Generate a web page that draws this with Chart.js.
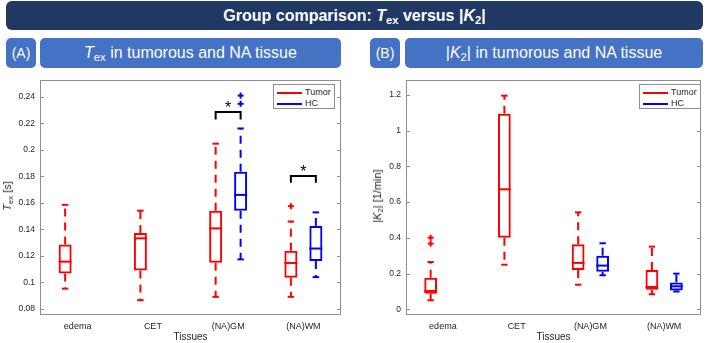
<!DOCTYPE html>
<html>
<head>
<meta charset="utf-8">
<title>Group comparison: Tex versus |K2|</title>
<script src="https://cdn.jsdelivr.net/npm/chart.js@4.4.1/dist/chart.umd.min.js"></script>
<style>
    body { margin: 0; background: #fff; font-family: "Liberation Sans", Arial, sans-serif; }
    #page { position: relative; width: 709px; height: 343px; overflow: hidden; }
    sub { font-size: 70%; vertical-align: -0.3em; line-height: 0; }

    .banner { position: absolute; left: 6px; top: 1px; width: 697px; height: 29px; line-height: 29px;
              background: #203864; border-radius: 6px; color: #fff; font-weight: bold; font-size: 16px; text-align: center; }
    .tag, .ptitle { position: absolute; top: 38px; height: 30px; line-height: 30px; background: #4472c4;
                    border-radius: 5px; color: #fff; text-align: center; }
    .tag { font-size: 14px; }
    .ptitle { font-size: 16px; }

    .ytitle { position: absolute; font-size: 11px; color: #262626; white-space: nowrap;
              transform: translate(-50%, -50%) rotate(-90deg); }

    .legend { position: absolute; top: 84px; width: 60px; height: 23px; border: 1px solid #8f8f8f;
              background: #fff; font-size: 9px; color: #262626; }
    .legend .row { position: absolute; left: 3px; height: 10px; line-height: 10px; white-space: nowrap; }
    .legend .row i { display: inline-block; width: 25px; height: 2px; vertical-align: middle; margin-right: 3px; }

    canvas { position: absolute; top: 70px; }
</style>
</head>
<body>
<div id="page">
    <div class="banner">Group comparison: <i>T</i><sub>ex</sub> versus |<i>K</i><sub>2</sub>|</div>

    <div class="tag" style="left:6px; width:30px;">(A)</div>
    <div class="ptitle" style="left:40px; width:301px;"><i>T</i><sub>ex</sub> in tumorous and NA tissue</div>
    <div class="tag" style="left:370px; width:30px;">(B)</div>
    <div class="ptitle" style="left:405px; width:298px;">|<i>K</i><sub>2</sub>| in tumorous and NA tissue</div>

    <canvas id="chartA" width="345" height="273" style="left:0px;"></canvas>
    <canvas id="chartB" width="343" height="273" style="left:366px;"></canvas>

    <div class="ytitle" style="left:7px; top:196px;"><i>T</i><sub>ex</sub> [s]</div>
    <div class="ytitle" style="left:377px; top:196px;">|<i>K</i><sub>2</sub>| [1/min]</div>

    <div class="legend" style="left:273px;">
        <div class="row" style="top:2px;"><i style="background:#ff0000"></i>Tumor</div>
        <div class="row" style="top:13px;"><i style="background:#0000ff"></i>HC</div>
    </div>
    <div class="legend" style="left:639px;">
        <div class="row" style="top:2px;"><i style="background:#ff0000"></i>Tumor</div>
        <div class="row" style="top:13px;"><i style="background:#0000ff"></i>HC</div>
    </div>
</div>

<script>
/////////////////////////////////////Data/////////////////////////////////////

const categories = ['edema', 'CET', '(NA)GM', '(NA)WM'];
const groupNames = ['Tumor', 'HC'];
const groupColors = ['#ff0000', '#0000ff'];

// (A) Tex [s] - tumour group
const texTumorLo  = [0.0952, 0.0865, 0.0890, 0.0890];
const texTumorQ1  = [0.1066, 0.1089, 0.1148, 0.1034];
const texTumorMed = [0.1156, 0.1332, 0.1407, 0.1146];
const texTumorQ3  = [0.1285, 0.1372, 0.1541, 0.1238];
const texTumorHi  = [0.1585, 0.1541, 0.2047, 0.1459];
const texTumorOut = [[], [], [], [0.1575]];

// (A) Tex [s] - healthy controls (no edema / CET)
const texHcLo  = [null, null, 0.1173, 0.1039];
const texHcQ1  = [null, null, 0.1541, 0.1161];
const texHcMed = [null, null, 0.1660, 0.1255];
const texHcQ3  = [null, null, 0.1834, 0.1426];
const texHcHi  = [null, null, 0.2162, 0.1528];
const texHcOut = [[], [], [0.2348, 0.2410], []];

// (B) |K2| [1/min] - tumour group
const k2TumorLo  = [0.051, 0.250, 0.138, 0.085];
const k2TumorQ1  = [0.088, 0.401, 0.221, 0.110];
const k2TumorMed = [0.103, 0.672, 0.260, 0.125];
const k2TumorQ3  = [0.177, 1.095, 0.365, 0.221];
const k2TumorHi  = [0.265, 1.196, 0.543, 0.351];
const k2TumorOut = [[0.368, 0.401], [], [], []];

// (B) |K2| [1/min] - healthy controls
const k2HcLo  = [null, null, 0.191, 0.100];
const k2HcQ1  = [null, null, 0.210, 0.105];
const k2HcMed = [null, null, 0.245, 0.129];
const k2HcQ3  = [null, null, 0.300, 0.151];
const k2HcHi  = [null, null, 0.370, 0.200];
const k2HcOut = [[], [], [], []];

// Axis ticks
const texTicks = [0.08, 0.1, 0.12, 0.14, 0.16, 0.18, 0.2, 0.22, 0.24];
const k2Ticks = [0, 0.2, 0.4, 0.6, 0.8, 1, 1.2];

// Significance brackets (A only): category, bracket level, end of the legs
const sigCats = ['(NA)GM', '(NA)WM'];
const sigTop  = [0.2286, 0.1802];
const sigEnd  = [0.2230, 0.1752];


/////////////////////////////////////Box plot drawing/////////////////////////////////////

// Draws the axes box, inward ticks, medians, whiskers, outliers and brackets
const boxPlugin = {
    id: 'boxdraw',
    afterDatasetsDraw(chart, args, opts) {
        const ctx = chart.ctx;
        const y = chart.scales.y;
        const area = chart.chartArea;

        ctx.save();

        // MATLAB style axes box with inward ticks
        ctx.strokeStyle = '#8f8f8f';
        ctx.lineWidth = 1;
        ctx.strokeRect(Math.round(area.left) + 0.5, Math.round(area.top) + 0.5,
            Math.round(area.right - area.left) - 1, Math.round(area.bottom - area.top) - 1);
        ctx.beginPath();
        y.ticks.forEach(t => {
            const py = Math.round(y.getPixelForValue(t.value)) + 0.5;
            ctx.moveTo(area.left, py); ctx.lineTo(area.left + 4, py);
            ctx.moveTo(area.right - 4, py); ctx.lineTo(area.right, py);
        });
        ctx.stroke();

        // whiskers, medians, caps, outliers
        ctx.lineWidth = 2;
        opts.groups.forEach((g, di) => {
            const meta = chart.getDatasetMeta(di);
            ctx.strokeStyle = groupColors[di];
            g.med.forEach((m, i) => {
                if (m == null) return;
                const bar = meta.data[i];
                const x = bar.x;
                const half = bar.width / 2;
                const line = (x1, y1, x2, y2) => {
                    ctx.beginPath(); ctx.moveTo(x1, y1); ctx.lineTo(x2, y2); ctx.stroke();
                };

                line(x - half, y.getPixelForValue(m), x + half, y.getPixelForValue(m));

                ctx.setLineDash([8, 6]);
                line(x, y.getPixelForValue(g.q3[i]), x, y.getPixelForValue(g.hi[i]));
                line(x, y.getPixelForValue(g.q1[i]), x, y.getPixelForValue(g.lo[i]));
                ctx.setLineDash([]);

                line(x - half / 2, y.getPixelForValue(g.hi[i]), x + half / 2, y.getPixelForValue(g.hi[i]));
                line(x - half / 2, y.getPixelForValue(g.lo[i]), x + half / 2, y.getPixelForValue(g.lo[i]));

                g.out[i].forEach(o => {
                    const py = y.getPixelForValue(o);
                    line(x - 3, py, x + 3, py);
                    line(x, py - 3, x, py + 3);
                });
            });
        });

        // significance brackets
        if (opts.sig) {
            ctx.strokeStyle = '#000';
            ctx.fillStyle = '#000';
            ctx.lineWidth = 2;
            ctx.font = '16px "Liberation Sans", Arial, sans-serif';
            ctx.textAlign = 'center';
            ctx.textBaseline = 'alphabetic';
            opts.sig.cats.forEach((c, k) => {
                const i = categories.indexOf(c);
                const x1 = chart.getDatasetMeta(0).data[i].x;
                const x2 = chart.getDatasetMeta(1).data[i].x;
                const yt = y.getPixelForValue(opts.sig.top[k]);
                const ye = y.getPixelForValue(opts.sig.end[k]);
                ctx.beginPath();
                ctx.moveTo(x1, ye); ctx.lineTo(x1, yt); ctx.lineTo(x2, yt); ctx.lineTo(x2, ye);
                ctx.stroke();
                ctx.fillText('*', (x1 + x2) / 2, yt + 1);
            });
        }

        ctx.restore();
    }
};

// Build one panel
function makePanel(canvasId, groups, yMin, yMax, ticks, sig, rightPad) {
    const datasets = groups.map((g, di) => ({
        label: groupNames[di],
        data: g.q1.map((v, i) => v == null ? null : [g.q1[i], g.q3[i]]),
        borderColor: groupColors[di],
        backgroundColor: 'rgba(0,0,0,0)',
        borderWidth: 2,
        borderSkipped: false,
        categoryPercentage: 0.664,
        barPercentage: 0.52
    }));

    return new Chart(document.getElementById(canvasId), {
        type: 'bar',
        data: { labels: categories, datasets: datasets },
        options: {
            responsive: false,
            animation: false,
            layout: { padding: { top: 7, right: rightPad, bottom: 0, left: 0 } },
            plugins: {
                legend: { display: false },
                tooltip: { enabled: false },
                boxdraw: { groups: groups, sig: sig }
            },
            scales: {
                x: {
                    grid: { display: false, drawTicks: false },
                    border: { display: false },
                    ticks: { color: '#262626', font: { size: 9, family: '"Liberation Sans", Arial, sans-serif' }, padding: 6 },
                    title: { display: true, text: 'Tissues', color: '#262626',
                             font: { size: 10, family: '"Liberation Sans", Arial, sans-serif' }, padding: { top: 0, bottom: 0 } },
                    afterFit: scale => { scale.height = 28; }
                },
                y: {
                    min: yMin,
                    max: yMax,
                    grid: { display: false, drawTicks: false },
                    border: { display: false },
                    afterBuildTicks: axis => { axis.ticks = ticks.map(v => ({ value: v })); },
                    ticks: { color: '#262626', font: { size: 8.5, family: '"Liberation Sans", Arial, sans-serif' }, padding: 5,
                             callback: v => String(v) },
                    afterFit: scale => { scale.width = 40; }
                }
            }
        },
        plugins: [boxPlugin]
    });
}

const texGroups = [
    { lo: texTumorLo, q1: texTumorQ1, med: texTumorMed, q3: texTumorQ3, hi: texTumorHi, out: texTumorOut },
    { lo: texHcLo, q1: texHcQ1, med: texHcMed, q3: texHcQ3, hi: texHcHi, out: texHcOut }
];
const k2Groups = [
    { lo: k2TumorLo, q1: k2TumorQ1, med: k2TumorMed, q3: k2TumorQ3, hi: k2TumorHi, out: k2TumorOut },
    { lo: k2HcLo, q1: k2HcQ1, med: k2HcMed, q3: k2HcQ3, hi: k2HcHi, out: k2HcOut }
];

makePanel('chartA', texGroups, 0.0753, 0.2527, texTicks, { cats: sigCats, top: sigTop, end: sigEnd }, 4);
makePanel('chartB', k2Groups, -0.0315, 1.283, k2Ticks, null, 8);
</script>
</body>
</html>
